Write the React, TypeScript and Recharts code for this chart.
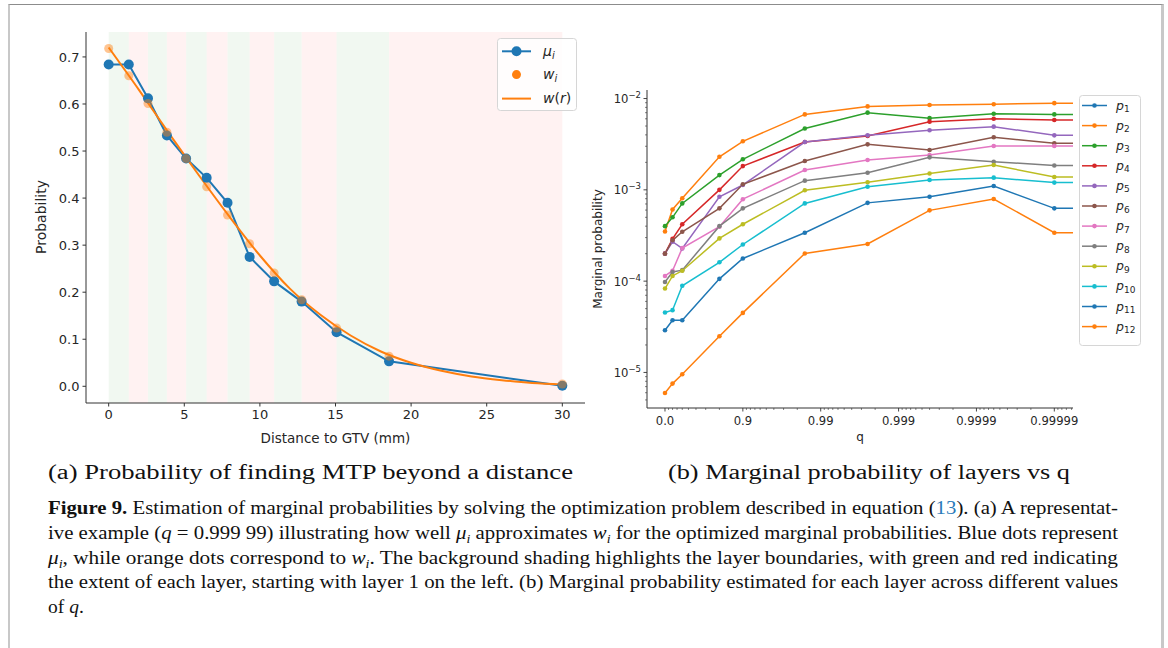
import React from 'react';
import { ComposedChart, Line, XAxis, YAxis, ReferenceArea, Legend } from 'recharts';

const FONT = '"DejaVu Sans", sans-serif';
const SERIF = '"Liberation Serif", "Times New Roman", serif';
const TXT = '#262626';
const SPINE = '#333';

// ---------- (a) data ----------
const layerStart = [0, 1.33, 2.6, 3.85, 5.12, 6.48, 7.86, 9.32, 10.94, 12.76, 15.07, 18.54, 30];
const muValues = [0.684, 0.684, 0.612, 0.533, 0.484, 0.443, 0.39, 0.275, 0.223, 0.18, 0.115, 0.053, 0.001];
const wValues = [0.718, 0.66, 0.601, 0.54, 0.484, 0.424, 0.364, 0.303, 0.241, 0.184, 0.124, 0.064, 0.005];
const curveR = [0, 2, 4, 6, 8, 10, 12, 14, 16, 18, 20, 22, 24, 26, 28, 30];
const curveW = [0.72, 0.63, 0.537, 0.447, 0.36, 0.278, 0.207, 0.152, 0.108, 0.074, 0.05, 0.033, 0.021, 0.013, 0.007, 0.004];
const distTicks = [0, 5, 10, 15, 20, 25, 30];
const probTicks = [0, 0.1, 0.2, 0.3, 0.4, 0.5, 0.6, 0.7];

// ---------- (b) data ----------
const qValues = [0, 0.2, 0.4, 0.8, 0.9, 0.984, 0.9975, 0.9996, 0.99994, 0.99999, 0.999999];
const p2 = [3.5e-4, 6.1e-4, 8.1e-4, 2.3e-3, 3.4e-3, 6.7e-3, 8.2e-3, 8.5e-3, 8.65e-3, 8.9e-3, 8.9e-3];
const p3 = [4.0e-4, 5.0e-4, 7.1e-4, 1.45e-3, 2.16e-3, 4.7e-3, 7.0e-3, 6.1e-3, 6.8e-3, 6.7e-3, 6.7e-3];
const p4 = [2.0e-4, 2.9e-4, 4.2e-4, 1.0e-3, 1.82e-3, 3.34e-3, 3.89e-3, 5.58e-3, 6.0e-3, 5.82e-3, 5.82e-3];
const p5 = [2.0e-4, 2.7e-4, 2.28e-4, 8.4e-4, 1.13e-3, 3.34e-3, 3.95e-3, 4.49e-3, 4.92e-3, 3.95e-3, 3.95e-3];
const p6 = [2.0e-4, 2.8e-4, 3.47e-4, 6.27e-4, 1.15e-3, 2.07e-3, 3.15e-3, 2.73e-3, 3.77e-3, 3.23e-3, 3.23e-3];
const p7 = [1.14e-4, 1.3e-4, 2.3e-4, 3.94e-4, 7.9e-4, 1.65e-3, 2.12e-3, 2.41e-3, 3.02e-3, 3.02e-3, 3.02e-3];
const p8 = [9.8e-5, 1.26e-4, 1.32e-4, 4.0e-4, 6.27e-4, 1.26e-3, 1.54e-3, 2.27e-3, 2.03e-3, 1.85e-3, 1.85e-3];
const p9 = [8.3e-5, 1.14e-4, 1.3e-4, 2.94e-4, 4.2e-4, 9.9e-4, 1.21e-3, 1.51e-3, 1.87e-3, 1.38e-3, 1.38e-3];
const p10 = [4.54e-5, 4.81e-5, 8.9e-5, 1.61e-4, 2.52e-4, 7.1e-4, 1.08e-3, 1.28e-3, 1.36e-3, 1.2e-3, 1.2e-3];
const p11 = [2.9e-5, 3.73e-5, 3.73e-5, 1.06e-4, 1.77e-4, 3.39e-4, 7.2e-4, 8.4e-4, 1.1e-3, 6.27e-4, 6.27e-4];
const p12 = [5.96e-6, 7.55e-6, 9.55e-6, 2.49e-5, 4.49e-5, 2.01e-4, 2.55e-4, 5.96e-4, 7.94e-4, 3.39e-4, 3.39e-4];
const seriesNames = ['p1', 'p2', 'p3', 'p4', 'p5', 'p6', 'p7', 'p8', 'p9', 'p10', 'p11', 'p12'];
const seriesColors = ['#1f77b4', '#ff7f0e', '#2ca02c', '#d62728', '#9467bd', '#8c564b', '#e377c2', '#7f7f7f', '#bcbd22', '#17becf', '#1f77b4', '#ff7f0e'];
const seriesValues: (number[] | null)[] = [null, p2, p3, p4, p5, p6, p7, p8, p9, p10, p11, p12];
const qTickValues = [0, 0.9, 0.99, 0.999, 0.9999, 0.99999];
const qTickLabels = ['0.0', '0.9', '0.99', '0.999', '0.9999', '0.99999'];
const yDecades = [1e-5, 1e-4, 1e-3, 1e-2];
const yDecadeLabels = ['−5', '−4', '−3', '−2'];

// ---------- derived tables ----------
const toT = (q: number) => (q === 0 ? 0 : -Math.log10(1 - q));
const muData = layerStart.map((x, i) => ({ x, v: muValues[i] }));
const wData = layerStart.map((x, i) => ({ x, v: wValues[i] }));
const curveData = curveR.map((x, i) => ({ x, v: curveW[i] }));
const bands = layerStart.slice(0, -1).map((s, i) => ({ x1: s, x2: layerStart[i + 1], green: i % 2 === 0 }));

const qData = qValues.map((q, i) => {
  const row: Record<string, number> = { t: toT(q) };
  seriesNames.forEach((n, k) => {
    const arr = seriesValues[k];
    if (arr) row[n] = arr[i];
  });
  return row;
});
const majorT = qTickValues.map(toT);
const X_MIN = -0.231;
const X_MAX = 5.24;
const minorT: number[] = [];
for (let d = 0; d <= 5; d++) {
  for (let k = 9; k >= 2; k--) {
    const t = d + 1 - Math.log10(k);
    if (t < X_MAX) minorT.push(t);
  }
}
const Y_MIN = 4.08e-6;
const Y_MAX = 1.24e-2;
const minorY: number[] = [];
for (let e = -6; e <= -2; e++) {
  for (let k = 2; k <= 9; k++) {
    const v = k * Math.pow(10, e);
    if (v > Y_MIN && v < Y_MAX) minorY.push(v);
  }
}

// ---------- ticks ----------
const QTick = (props: any) => {
  const { x, y, payload } = props;
  const idx = majorT.findIndex((m) => Math.abs(m - payload.value) < 1e-9);
  if (idx >= 0) {
    return (
      <g>
        <line x1={x} x2={x} y1={y} y2={y + 3.5} stroke={SPINE} strokeWidth={0.9} />
        <text x={x} y={y + 16.5} textAnchor="middle" fontSize={11.6} fontFamily={FONT} fill={TXT}>
          {qTickLabels[idx]}
        </text>
      </g>
    );
  }
  return <line x1={x} x2={x} y1={y} y2={y + 2} stroke={SPINE} strokeWidth={0.6} />;
};

const LogTick = (props: any) => {
  const { x, y, payload } = props;
  const idx = yDecades.findIndex((m) => Math.abs(m - payload.value) / m < 1e-6);
  if (idx >= 0) {
    return (
      <g>
        <line x1={x - 3.5} x2={x} y1={y} y2={y} stroke={SPINE} strokeWidth={0.9} />
        <text x={x - 6} y={y + 4.5} textAnchor="end" fontSize={11.6} fontFamily={FONT} fill={TXT}>
          10
          <tspan dy={-5} fontSize={8.5}>{yDecadeLabels[idx]}</tspan>
        </text>
      </g>
    );
  }
  return <line x1={x - 2} x2={x} y1={y} y2={y} stroke={SPINE} strokeWidth={0.6} />;
};

// ---------- legends ----------
const LeftLegend = () => (
  <svg width={80} height={73} style={{ display: 'block', overflow: 'visible' }}>
    <rect x={0.5} y={0.5} width={79} height={72} rx={3} fill="#fff" fillOpacity={0.85} stroke="#d6d6d6" />
    <line x1={5} x2={34} y1={13.3} y2={13.3} stroke="#1f77b4" strokeWidth={2} />
    <circle cx={19.5} cy={13.3} r={5} fill="#1f77b4" />
    <text x={46} y={17.8} fontSize={14} fontFamily={FONT} fill={TXT} fontStyle="italic">
      μ<tspan fontSize={10} dy={3}>i</tspan>
    </text>
    <circle cx={19.5} cy={36.6} r={4.5} fill="#ff7f0e" />
    <text x={46} y={41} fontSize={14} fontFamily={FONT} fill={TXT} fontStyle="italic">
      w<tspan fontSize={10} dy={3}>i</tspan>
    </text>
    <line x1={5} x2={34} y1={60.6} y2={60.6} stroke="#ff7f0e" strokeWidth={2} />
    <text x={46} y={65.2} fontSize={14} fontFamily={FONT} fill={TXT}>
      <tspan fontStyle="italic">w</tspan>(<tspan fontStyle="italic">r</tspan>)
    </text>
  </svg>
);

const RightLegend = () => (
  <svg width={62} height={251} style={{ display: 'block', overflow: 'visible' }}>
    <rect x={0.5} y={0.5} width={61} height={250} rx={3} fill="#fff" fillOpacity={0.85} stroke="#d6d6d6" />
    {seriesNames.map((n, i) => {
      const cy = 10.5 + i * 20.1;
      return (
        <g key={n}>
          <line x1={3} x2={28} y1={cy} y2={cy} stroke={seriesColors[i]} strokeWidth={1.5} />
          <circle cx={15.5} cy={cy} r={2.3} fill={seriesColors[i]} />
          <text x={37} y={cy + 4} fontSize={12.5} fontFamily={FONT} fill={TXT} fontStyle="italic">
            p<tspan fontSize={9} dy={2.5} fontStyle="normal">{n.slice(1)}</tspan>
          </text>
        </g>
      );
    })}
  </svg>
);

// ---------- charts ----------
const LeftChart = () => (
  <ComposedChart width={600} height={460} margin={{ top: 32, right: 15, bottom: 0, left: 0 }}>
    <XAxis
      dataKey="x"
      type="number"
      domain={[-1.5, 31.5]}
      ticks={distTicks}
      interval={0}
      allowDataOverflow
      height={57}
      tickSize={3.5}
      tickMargin={3}
      stroke={SPINE}
      tickLine={{ stroke: SPINE }}
      tick={{ fontSize: 13, fontFamily: FONT, fill: TXT }}
    />
    <YAxis
      type="number"
      domain={[-0.0355, 0.753]}
      ticks={probTicks}
      interval={0}
      allowDataOverflow
      width={86}
      tickSize={3.5}
      tickMargin={3}
      stroke={SPINE}
      tickLine={{ stroke: SPINE }}
      tickFormatter={(v: number) => v.toFixed(1)}
      tick={{ fontSize: 13, fontFamily: FONT, fill: TXT }}
    />
    {bands.map((b, i) => (
      <ReferenceArea
        key={i}
        x1={b.x1}
        x2={b.x2}
        fill={b.green ? '#008000' : '#ff0000'}
        fillOpacity={b.green ? 0.055 : 0.05}
        stroke="none"
      />
    ))}
    <Line
      data={muData}
      dataKey="v"
      stroke="#1f77b4"
      strokeWidth={2}
      isAnimationActive={false}
      dot={{ r: 5, fill: '#1f77b4', stroke: 'none' }}
      activeDot={false}
    />
    <Line
      data={wData}
      dataKey="v"
      stroke="none"
      isAnimationActive={false}
      dot={{ r: 4.5, fill: '#ff7f0e', fillOpacity: 0.45, stroke: 'none' }}
      activeDot={false}
    />
    <Line
      data={curveData}
      dataKey="v"
      type="monotone"
      stroke="#ff7f0e"
      strokeWidth={2}
      isAnimationActive={false}
      dot={false}
      activeDot={false}
    />
    <Legend
      layout="vertical"
      align="center"
      verticalAlign="middle"
      wrapperStyle={{ left: 497, top: 38, width: 80, height: 73 }}
      content={() => <LeftLegend />}
    />
  </ComposedChart>
);

const RightChart = () => (
  <ComposedChart width={570} height={368} data={qData} margin={{ top: 10, right: 87, bottom: 0, left: 0 }}>
    <XAxis
      dataKey="t"
      type="number"
      domain={[X_MIN, X_MAX]}
      allowDataOverflow
      ticks={[...majorT, ...minorT]}
      interval={0}
      height={40}
      tickSize={0}
      tickMargin={0}
      tickLine={false}
      stroke={SPINE}
      tick={(p: any) => <QTick {...p} />}
    />
    <XAxis xAxisId="top" orientation="top" type="number" domain={[X_MIN, X_MAX]} allowDataOverflow height={0} tick={false} tickLine={false} stroke={SPINE} />
    <YAxis
      type="number"
      scale="log"
      domain={[Y_MIN, Y_MAX]}
      allowDataOverflow
      ticks={[...yDecades, ...minorY]}
      interval={0}
      width={57}
      tickSize={0}
      tickMargin={0}
      tickLine={false}
      stroke={SPINE}
      tick={(p: any) => <LogTick {...p} />}
    />
    <YAxis yAxisId="right" orientation="right" type="number" scale="log" domain={[Y_MIN, Y_MAX]} allowDataOverflow width={0} tick={false} tickLine={false} stroke={SPINE} />
    {seriesNames.map((n, i) =>
      seriesValues[i] ? (
        <Line
          key={n}
          dataKey={n}
          stroke={seriesColors[i]}
          strokeWidth={1.5}
          isAnimationActive={false}
          dot={{ r: 2.3, fill: seriesColors[i], stroke: 'none' }}
          activeDot={false}
        />
      ) : null
    )}
    <Legend
      layout="vertical"
      align="center"
      verticalAlign="middle"
      wrapperStyle={{ left: 489, top: 15, width: 62, height: 251 }}
      content={() => <RightLegend />}
    />
  </ComposedChart>
);

const CAP_SIZE = 19.5;
const SUB_SIZE = 13;
const SUB_DY = 4;
// italic symbol with an italic subscript; the text after it restores the baseline
const SymSub = ({ base, sub, after }: { base: string; sub: string; after: string }) => (
  <>
    <tspan fontStyle="italic">{base}</tspan>
    <tspan fontStyle="italic" fontSize={SUB_SIZE} dy={SUB_DY}>{sub}</tspan>
    <tspan dy={-SUB_DY}>{after}</tspan>
  </>
);

export default function App() {
  return (
    <div style={{ position: 'absolute', left: 0, top: 0, width: 1168, height: 648, background: '#fff', overflow: 'hidden' }}>
      {/* frame */}
      <div style={{ position: 'absolute', left: 8, top: 4, width: 1156, height: 700, borderTop: '1px solid #8c8c8c', borderLeft: '2px solid #c8c8c8', borderRight: '3px solid #c8c8c8', boxSizing: 'border-box' }} />
      <div style={{ position: 'absolute', left: 0, top: 0 }}>
        <LeftChart />
      </div>
      <div style={{ position: 'absolute', left: 590, top: 80 }}>
        <RightChart />
      </div>
      <svg width={1168} height={648} style={{ position: 'absolute', left: 0, top: 0, pointerEvents: 'none' }}>
        <text x={41} y={217} transform="rotate(-90 41 217)" textAnchor="middle" dominantBaseline="central" fontSize={14} fontFamily={FONT} fill={TXT}>
          Probability
        </text>
        <text x={335.5} y={438} textAnchor="middle" dominantBaseline="central" fontSize={13.5} fontFamily={FONT} fill={TXT}>
          Distance to GTV (mm)
        </text>
        <text x={598} y={249} transform="rotate(-90 598 249)" textAnchor="middle" dominantBaseline="central" fontSize={12} fontFamily={FONT} fill={TXT}>
          Marginal probability
        </text>
        <text x={860} y={437} textAnchor="middle" dominantBaseline="central" fontSize={12} fontFamily={FONT} fill={TXT}>
          q
        </text>
        <text x={48} y={479} fontSize={20} fontFamily={SERIF} fill="#111" textLength={525} lengthAdjust="spacingAndGlyphs">
          (a) Probability of finding MTP beyond a distance
        </text>
        <text x={668} y={479} fontSize={20} fontFamily={SERIF} fill="#111" textLength={402} lengthAdjust="spacingAndGlyphs">
          (b) Marginal probability of layers vs q
        </text>

        <g fontFamily={SERIF} fontSize={CAP_SIZE} fill="#111">
          <text x={48} y={514} textLength={1070} lengthAdjust="spacingAndGlyphs">
            <tspan fontWeight="bold">Figure 9.</tspan>
            {' Estimation of marginal probabilities by solving the optimization problem described in equation ('}
            <tspan fill="#2a7ab9">13</tspan>
            {'). (a) A representat-'}
          </text>
          <text x={48} y={539} textLength={1070} lengthAdjust="spacingAndGlyphs">
            {'ive example ('}
            <tspan fontStyle="italic">q</tspan>
            {' = 0.999 99) illustrating how well '}
            <SymSub base="μ" sub="i" after=" approximates " />
            <SymSub base="w" sub="i" after=" for the optimized marginal probabilities. Blue dots represent" />
          </text>
          <text x={48} y={564} textLength={1070} lengthAdjust="spacingAndGlyphs">
            <SymSub base="μ" sub="i" after=", while orange dots correspond to " />
            <SymSub base="w" sub="i" after=". The background shading highlights the layer boundaries, with green and red indicating" />
          </text>
          <text x={48} y={588} textLength={1070} lengthAdjust="spacingAndGlyphs">
            the extent of each layer, starting with layer 1 on the left. (b) Marginal probability estimated for each layer across different values
          </text>
          <text x={48} y={613}>
            {'of '}
            <tspan fontStyle="italic">q</tspan>
            {'.'}
          </text>
        </g>
      </svg>
    </div>
  );
}
